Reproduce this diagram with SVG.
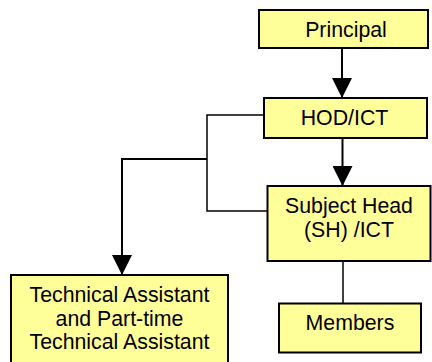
<svg xmlns="http://www.w3.org/2000/svg" width="432" height="362" viewBox="0 0 432 362">
  <style>
    .box { fill: #ffff99; stroke: #000; stroke-width: 2; }
    .lbl { font-family: "Liberation Sans", Arial, sans-serif; font-size: 21.3px; fill: #000; text-anchor: middle; }
    .wire { fill: none; stroke: #000; stroke-width: 2; }
    .thin { fill: none; stroke: #000; stroke-width: 1.5; }
  </style>
  <defs>
    <marker id="head" markerUnits="userSpaceOnUse" markerWidth="20" markerHeight="20" viewBox="0 0 20 20" refX="20" refY="10" orient="auto">
      <path d="M0,0 L20,10 L0,20 Z" fill="#000"/>
    </marker>
  </defs>
  <rect width="432" height="362" fill="#fff"/>

  <g id="connectors">
    <line class="wire" x1="342" y1="48" x2="342" y2="98" marker-end="url(#head)"/>
    <line class="wire" x1="342.5" y1="139" x2="342.5" y2="186" marker-end="url(#head)"/>
    <polyline class="thin" points="264,115 207,115 207,211 267,211"/>
    <polyline class="wire" points="207,159 122,159 122,275" marker-end="url(#head)"/>
    <line class="thin" x1="343" y1="261" x2="343" y2="303"/>
  </g>

  <g id="principal">
    <rect class="box" x="259" y="10" width="169" height="38"/>
    <text class="lbl" x="346" y="36.5">Principal</text>
  </g>
  <g id="hod-ict">
    <rect class="box" x="264" y="98" width="163" height="40"/>
    <text class="lbl" x="344.5" y="125">HOD/ICT</text>
  </g>
  <g id="subject-head">
    <rect class="box" x="267.5" y="186" width="163" height="75"/>
    <text class="lbl" x="349" y="213">Subject Head</text>
    <text class="lbl" x="349" y="236.5">(SH) /ICT</text>
  </g>
  <g id="members">
    <rect class="box" x="279" y="303.5" width="142" height="49"/>
    <text class="lbl" x="350" y="330">Members</text>
  </g>
  <g id="technical-assistant">
    <rect class="box" x="11" y="275" width="217" height="95"/>
    <text class="lbl" x="119.5" y="301.5">Technical Assistant</text>
    <text class="lbl" x="119.5" y="325.5">and Part-time</text>
    <text class="lbl" x="119.5" y="349.3">Technical Assistant</text>
  </g>
</svg>
